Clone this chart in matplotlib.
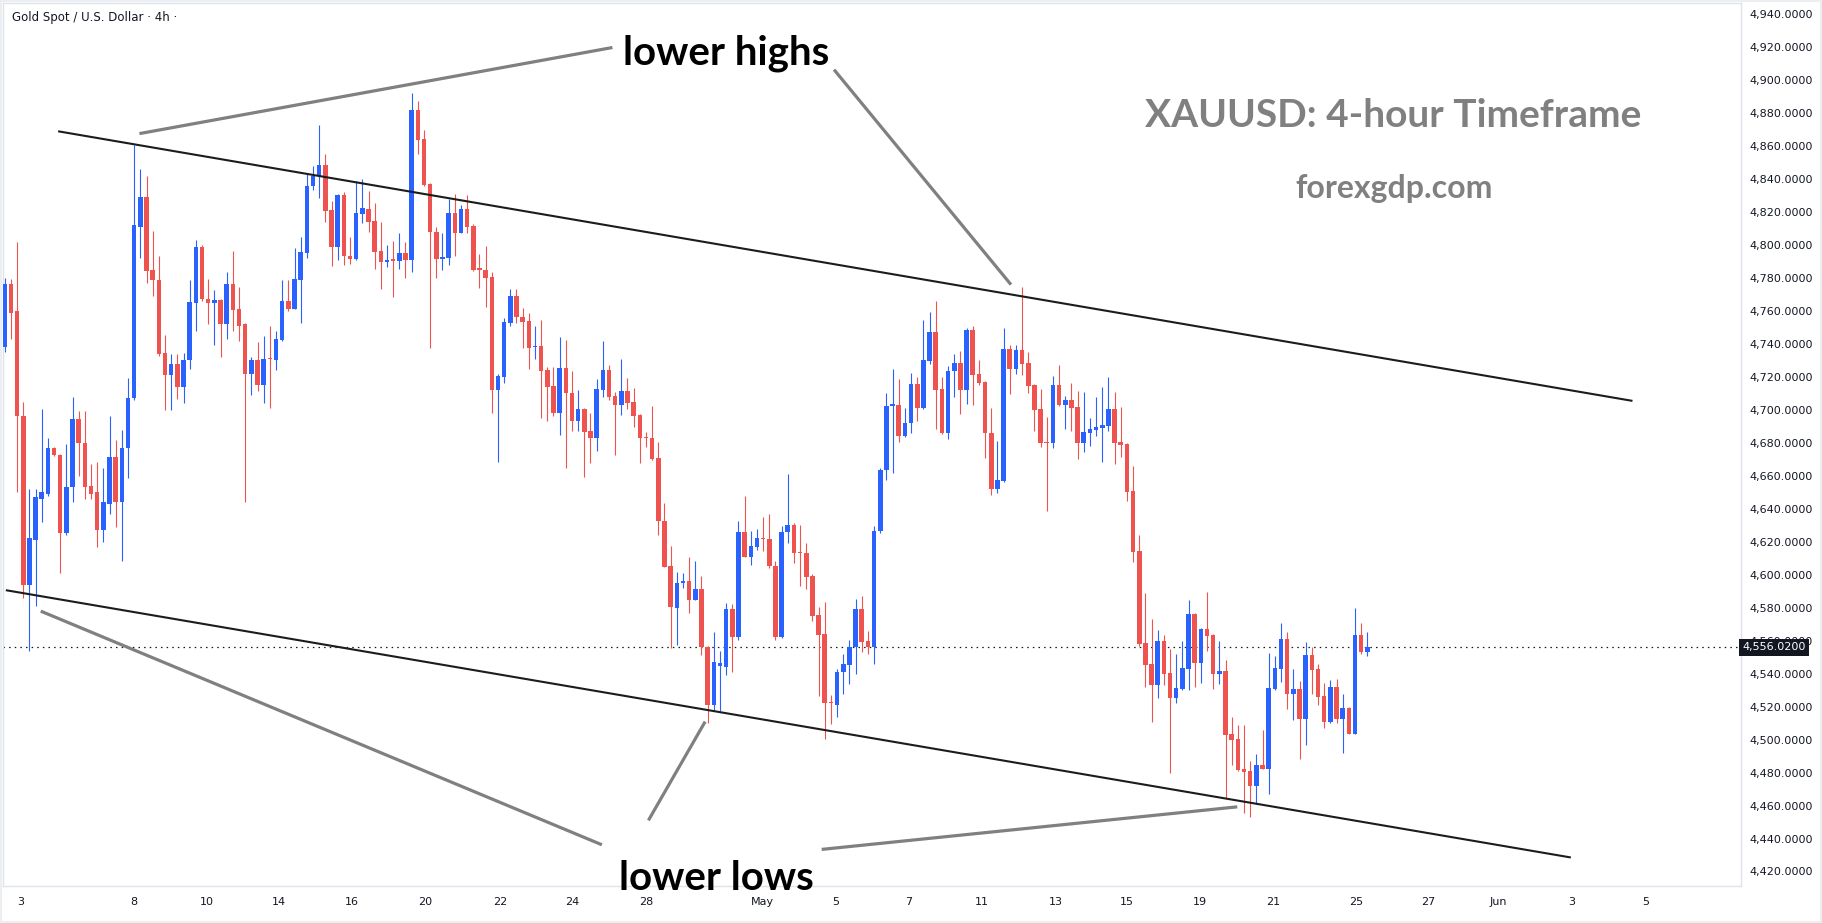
import numpy as np
import matplotlib
matplotlib.use("Agg")
import matplotlib.pyplot as plt
import matplotlib.transforms as mtransforms
from matplotlib.patches import Rectangle

# 4h candles, XAUUSD
opens = [
    4738, 4776, 4759.7, 4696, 4594, 4621, 4646, 4649, 4677, 4672.5,
    4625, 4653, 4694.5, 4680, 4654, 4650, 4627, 4643, 4671.5, 4644,
    4677, 4707, 4811, 4829, 4785, 4779, 4734.6, 4721, 4728, 4714,
    4730, 4765, 4799, 4767, 4765, 4766.6, 4752, 4776, 4761, 4752,
    4722, 4730, 4715, 4731.5, 4730, 4742.5, 4766, 4761, 4779, 4795,
    4836, 4842, 4848.5, 4821, 4799, 4830, 4793, 4791.5, 4819, 4822,
    4814.5, 4796, 4789.6, 4791, 4790, 4795, 4791, 4882, 4864, 4837,
    4808, 4791.5, 4792, 4819.4, 4807.5, 4822, 4811.7, 4785.5, 4785, 4780.6,
    4711.7, 4720, 4752.7, 4769, 4756, 4753.9, 4737.8, 4738.8, 4724.2, 4714.5,
    4698.3, 4725.4, 4710.3, 4693, 4700.6, 4687.4, 4682.6, 4712.1, 4724.2, 4708.4,
    4703.2, 4711.5, 4704.8, 4696.9, 4682.8, 4683, 4671, 4632.7, 4605.3, 4580,
    4594.8, 4596.2, 4584.9, 4591.4, 4556, 4521.2, 4544.7, 4544.3, 4579.3, 4562.5,
    4625.9, 4611, 4617, 4622.3, 4621.7, 4605.3, 4562.5, 4625.9, 4630.2, 4613.6,
    4613.2, 4599.3, 4575.8, 4564.1, 4522.3, 4521.2, 4540.7, 4545.5, 4556, 4579.3,
    4559.8, 4556.2, 4626.2, 4663.2, 4702.6, 4703, 4684.4, 4691.7, 4715.7, 4701.1,
    4729.7, 4747.3, 4712.6, 4686.1, 4723.5, 4728.5, 4712.2, 4748.5, 4721.6, 4717,
    4686.1, 4652.2, 4657, 4737, 4724.5, 4736.2, 4728.5, 4715.1, 4700.5, 4680,
    4679.6, 4715.1, 4703.2, 4705.7, 4701.7, 4679.6, 4686.1, 4688, 4689, 4690.4,
    4700.5, 4680.5, 4679.3, 4650.8, 4614.4, 4558.6, 4545.8, 4533.3, 4559.8, 4540.4,
    4525.4, 4530.7, 4543, 4576.2, 4546.6, 4567.1, 4563.4, 4540, 4541.6, 4503.4,
    4500.3, 4482.2, 4480.9, 4472, 4484.6, 4482.2, 4530.7, 4543, 4561, 4527.8,
    4530.7, 4512.7, 4551.3, 4542.8, 4526.4, 4510.7, 4531.9, 4512.7, 4519.2, 4503.6,
    4563.4, 4553.3,
]
highs = [
    4780, 4779.6, 4802, 4704.7, 4652, 4652, 4700.5, 4683, 4677.5, 4673,
    4679, 4708, 4699, 4699, 4667, 4668.5, 4665, 4696, 4681.5, 4688,
    4719, 4860.6, 4846, 4842, 4808.6, 4793, 4745.5, 4734, 4734, 4734.6,
    4779, 4803, 4800, 4779.6, 4772.5, 4767, 4783.6, 4796, 4774.5, 4752.5,
    4732, 4741, 4745, 4751, 4748, 4778.7, 4779, 4798, 4804.8, 4843,
    4848, 4872.7, 4855, 4826.6, 4831, 4832, 4804.8, 4838.8, 4840, 4832.7,
    4825.4, 4814, 4800, 4802.4, 4807, 4802, 4892, 4887, 4869.7, 4837.5,
    4811, 4807, 4827.8, 4831, 4824, 4830, 4812.5, 4794.6, 4799.4, 4783.8,
    4721.8, 4755.7, 4773.3, 4773, 4761.8, 4758.8, 4751, 4754.5, 4726, 4726,
    4744.2, 4742.4, 4723.6, 4712, 4701.2, 4698.3, 4718.8, 4741.8, 4727.3, 4710.9,
    4730.9, 4719.3, 4713.3, 4697.5, 4686.4, 4702.4, 4680.3, 4643.6, 4617.1, 4601.7,
    4600.9, 4610.8, 4608.4, 4599.3, 4556.5, 4565.5, 4553.8, 4583.1, 4582.3, 4632.6,
    4647.8, 4626.6, 4627.8, 4635, 4636.9, 4608.4, 4629.6, 4661.1, 4631.4, 4630,
    4619.3, 4600.7, 4580.1, 4583.7, 4527.3, 4542.5, 4552, 4560.5, 4585.3, 4587.1,
    4566.1, 4629.6, 4664.8, 4709.9, 4724.5, 4718.9, 4701.1, 4722.4, 4719.9, 4754.6,
    4759.4, 4766.1, 4719.9, 4726.6, 4733.9, 4735.8, 4749.3, 4750.8, 4730.3, 4717.5,
    4701.1, 4681.3, 4749.8, 4739.3, 4739.3, 4774.6, 4735.1, 4715.5, 4712.6, 4695.9,
    4720.5, 4727.2, 4708.4, 4716.3, 4711.5, 4710.9, 4694.8, 4707.8, 4713.8, 4719.9,
    4710.8, 4701.7, 4679.8, 4665.9, 4624.1, 4589.1, 4573.1, 4566.5, 4563.4, 4554.9,
    4551.9, 4559.8, 4584.6, 4576.7, 4567.5, 4589.5, 4563.8, 4559.8, 4548.3, 4513.9,
    4509, 4509, 4487, 4491.3, 4505.8, 4552.5, 4550.7, 4570.7, 4565.2, 4542.8,
    4535.5, 4559.2, 4556.1, 4545.8, 4534.3, 4536.1, 4536.7, 4527.6, 4520, 4579.8,
    4570.7, 4565.2,
]
lows = [
    4735, 4743, 4650, 4586, 4554, 4581, 4632, 4648, 4672, 4601,
    4624, 4644, 4660, 4646, 4646, 4616.5, 4620, 4637, 4629, 4608,
    4658.5, 4706, 4792, 4777, 4769, 4732.5, 4699.6, 4700, 4706.6, 4704,
    4725, 4748, 4766, 4752, 4739, 4732, 4743, 4748, 4742, 4644,
    4709, 4711.6, 4704, 4701, 4724, 4742, 4760, 4761, 4752.6, 4792,
    4833, 4828.6, 4814, 4787.4, 4791, 4788, 4788.4, 4791, 4813.5, 4807.8,
    4785.4, 4773, 4786.6, 4768.4, 4785.4, 4780, 4783.6, 4855, 4835.7, 4737.7,
    4780, 4784.8, 4788, 4793.3, 4807, 4807, 4784, 4774, 4762.6, 4698.3,
    4668.6, 4716.5, 4751, 4752.7, 4737.5, 4724.8, 4731, 4695.3, 4692.9, 4696,
    4684.8, 4665, 4687.4, 4687.4, 4659, 4668, 4675.3, 4707.8, 4706, 4672.7,
    4696.9, 4700.2, 4689.8, 4668, 4677.7, 4669.8, 4624.3, 4604.5, 4555.4, 4557.4,
    4591.8, 4576.6, 4584.5, 4551.4, 4510.3, 4517.6, 4517.6, 4539.2, 4541.2, 4560.5,
    4610.5, 4605.9, 4615, 4614.4, 4603.9, 4560.5, 4561.9, 4619.3, 4607.2, 4593.4,
    4591.4, 4572.2, 4526.7, 4500.6, 4509.7, 4513.4, 4527.9, 4534, 4540, 4553.4,
    4552.2, 4546.1, 4625, 4657.7, 4661.4, 4680.2, 4683.2, 4686.1, 4693, 4700.5,
    4728, 4688.4, 4685.5, 4682.3, 4707.8, 4697.6, 4703.8, 4703, 4715.3, 4670.8,
    4648.5, 4649.5, 4656.5, 4709.3, 4722, 4721.4, 4709.9, 4687.3, 4677.7, 4638.9,
    4677.1, 4702.2, 4688.4, 4686.9, 4670.2, 4674.2, 4678.3, 4684.4, 4668.5, 4687.4,
    4667.4, 4671.6, 4644.9, 4607.9, 4557, 4531.9, 4510.7, 4525.4, 4533.3, 4479.9,
    4522.4, 4530.3, 4530.3, 4531.9, 4534.3, 4553.9, 4530.7, 4533.9, 4464.6, 4484.6,
    4481, 4455.3, 4453.3, 4460.7, 4482, 4467, 4530, 4535.1, 4518.7, 4512.1,
    4488.4, 4496.9, 4527.8, 4521.2, 4507.2, 4510.3, 4510.3, 4492.1, 4503.2, 4503.2,
    4551.9, 4550.9,
]
closes = [
    4776, 4759, 4696, 4594, 4622, 4647, 4650, 4677, 4672.5, 4625,
    4653, 4694.5, 4680, 4653, 4649, 4627, 4644, 4671.5, 4644, 4677,
    4707, 4812, 4829, 4784, 4778.5, 4734, 4721, 4728, 4714, 4730,
    4765.5, 4799, 4767, 4765, 4766.6, 4752, 4776, 4760.7, 4751, 4721.7,
    4730, 4715, 4731, 4731, 4743, 4766, 4761, 4779.3, 4795.7, 4836,
    4842, 4848.5, 4820.8, 4799, 4830, 4793, 4791.5, 4819.3, 4822.4, 4814,
    4795.7, 4789.6, 4790.8, 4790.5, 4795, 4791, 4881.8, 4863.6, 4836.3, 4807.8,
    4791.5, 4792.7, 4819.3, 4807.5, 4821.8, 4811, 4785, 4785, 4780, 4711.7,
    4720.6, 4753.3, 4769, 4756, 4753.5, 4737.5, 4738.8, 4723.6, 4713.9, 4698.3,
    4725.4, 4709.9, 4692.9, 4700.6, 4686.8, 4682.6, 4712.7, 4724.2, 4707.8, 4703.2,
    4711.5, 4704.4, 4696.5, 4682.6, 4682.6, 4670.4, 4632.3, 4604.9, 4580.1, 4595,
    4596.2, 4584.9, 4591.4, 4556, 4521.2, 4547.1, 4546.7, 4579.3, 4562.5, 4625.9,
    4611, 4617.5, 4622.3, 4621.5, 4605, 4562.5, 4625.9, 4630.2, 4613.2, 4613.2,
    4598.7, 4575.2, 4563.5, 4521.9, 4521.9, 4541.1, 4545.9, 4556, 4579.3, 4559.4,
    4556.2, 4626.6, 4663.6, 4702.4, 4703.2, 4684.4, 4692.1, 4715.7, 4701.1, 4730.3,
    4747.3, 4712.2, 4686.1, 4723.7, 4728.5, 4712.2, 4748.5, 4721.2, 4716.4, 4686.1,
    4652.2, 4657.5, 4737, 4724.5, 4736.2, 4728, 4714.7, 4700.1, 4679.6, 4679.8,
    4715.1, 4703.2, 4705.7, 4701.3, 4679.6, 4686.7, 4688.6, 4689.6, 4690.9, 4700.5,
    4680.1, 4678.9, 4650.4, 4614, 4557.8, 4545.4, 4533.3, 4559.8, 4540, 4525.4,
    4531.3, 4543.4, 4576.2, 4546.6, 4567.1, 4563, 4540, 4541.4, 4503, 4500,
    4481.8, 4480.3, 4472, 4484.6, 4482.2, 4531.3, 4543.4, 4561, 4527.8, 4530.7,
    4512.7, 4551.3, 4542.4, 4526, 4510.7, 4531.9, 4512.7, 4519.2, 4503.6, 4563.4,
    4553.3, 4556.02,
]

# date labels on the time axis (in candle units)
date_labels = ['3', '8', '10', '14', '16', '20', '22', '24', '28', 'May', '5',
               '7', '11', '13', '15', '19', '21', '25', '27', 'Jun', '3', '5']
date_pos = [2.6, 20.9, 32.8, 44.5, 56.3, 68.2, 80.3, 92.1, 104.0, 122.9, 134.7,
            146.6, 158.5, 170.4, 182.0, 193.9, 205.8, 219.2, 230.8, 242.3, 254.2, 266.1]

last_price = 4556.02

# channel lines and pointer lines (candle index, price)
channel = [((8.66, 4868.9), (264.0, 4705.4)),
           ((0.18, 4590.6), (254.0, 4428.5))]
pointers = [((21.85, 4867.5), (98.56, 4919.7)),
            ((134.5, 4906.3), (163.2, 4775.9)),
            ((5.84, 4577.9), (96.85, 4436.2)),
            ((104.4, 4451.0), (113.6, 4510.9)),
            ((132.5, 4433.4), (199.9, 4459.2))]

UP = '#2962FF'
DOWN = '#EF5350'
TXT = '#131722'

o = np.array(opens)
h = np.array(highs)
l = np.array(lows)
c = np.array(closes)
x = np.arange(len(o))
colors = np.where(c >= o, UP, DOWN)

W, H = 1822, 923
fig = plt.figure(figsize=(W / 100, H / 100), dpi=100)
fig.patch.set_facecolor('white')
ax = fig.add_axes([3 / W, 1 - 886 / H, (1741 - 3) / W, (886 - 3) / H])

# candles
ax.vlines(x, np.minimum(l, np.minimum(o, c)), np.maximum(h, np.maximum(o, c)),
          colors=colors, linewidth=0.8, zorder=2)
body = np.maximum(np.abs(c - o), 0.7)
ax.bar(x, body, bottom=np.minimum(o, c), width=0.74, color=colors,
       linewidth=0, zorder=3)

ax.set_xlim(-0.28, 281.6)
ax.set_ylim(4411.2, 4946.7)

# last price line
ax.axhline(last_price, color=TXT, lw=0.9, ls=(0, (1.2, 3.3)), zorder=1)

for (x0, y0), (x1, y1) in channel:
    ax.plot([x0, x1], [y0, y1], color='#1c1c1c', lw=1.5, zorder=4,
            solid_capstyle='butt')
for (x0, y0), (x1, y1) in pointers:
    ax.plot([x0, x1], [y0, y1], color='#808080', lw=2.3, zorder=4,
            solid_capstyle='butt', clip_on=False)

big = dict(family=['Lato', 'DejaVu Sans'], fontweight='bold', ha='center',
           clip_on=False, zorder=6)
ax.text(117.0, 4916.5, 'lower highs', fontsize=29, color='black', va='center', **big)
ax.text(115.5, 4409.0, 'lower lows', fontsize=29, color='black', va='baseline', **big)
ax.text(225.2, 4878.5, 'XAUUSD: 4-hour Timeframe', fontsize=28, color='#808080',
        va='center', **big)
ax.text(225.3, 4834.5, 'forexgdp.com', fontsize=23, color='#808080', va='center', **big)

# axes look
ax.yaxis.tick_right()
ax.set_yticks(np.arange(4420, 4941, 20))
ax.yaxis.set_major_formatter(matplotlib.ticker.FuncFormatter(lambda v, p: f'{v:,.4f}'))
ax.set_xticks(date_pos, date_labels)
ax.tick_params(axis='y', length=0, pad=6, labelsize=8, labelcolor=TXT)
ax.tick_params(axis='x', length=0, pad=8, labelsize=8, labelcolor=TXT)
for s in ax.spines.values():
    s.set_color('#e0e3eb')
    s.set_linewidth(1)

# last price tag on the scale
tr = mtransforms.blended_transform_factory(ax.transAxes, ax.transData)
ax.text(1.0007, last_price, '4,556.0200', transform=tr, ha='left', va='center',
        fontsize=8, color='white', clip_on=False, zorder=10,
        bbox=dict(boxstyle='square,pad=0.32', fc=TXT, ec='none'))

fig.text(12 / W, 1 - 18 / H, 'Gold Spot / U.S. Dollar · 4h ·', fontsize=8.5,
         color=TXT, ha='left', va='center')

# thin page frame
fig.patches.append(Rectangle((0, 0), 1, 1, transform=fig.transFigure, fill=False,
                             ec='#eceff2', lw=3))

fig.savefig('out.png', dpi=100)
